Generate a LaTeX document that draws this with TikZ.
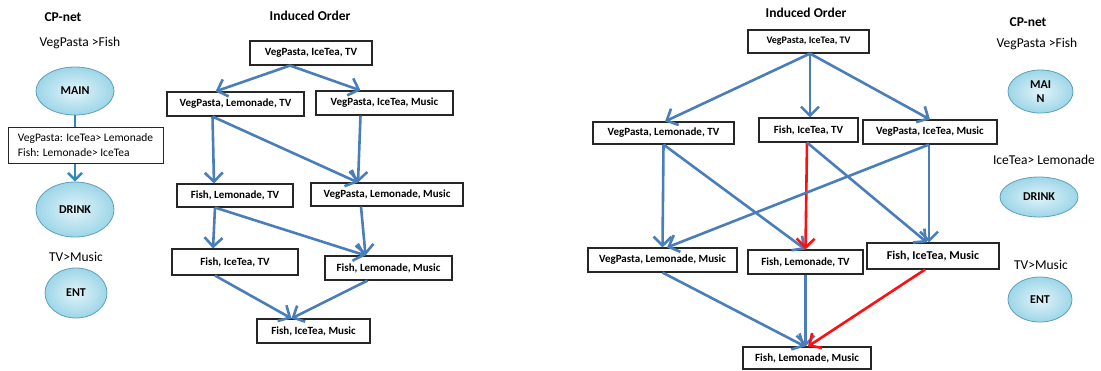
\documentclass[tikz,border=0pt]{standalone}
\usepackage{fontspec}
\setmainfont{Carlito}
\usetikzlibrary{arrows.meta,shapes.geometric}

\definecolor{edgeblue}{HTML}{4A7EBB}
\definecolor{edgered}{HTML}{FF1010}
\definecolor{netline}{HTML}{2E8CB4}
\definecolor{ellin}{HTML}{E2F4F9}
\definecolor{ellout}{HTML}{9DD6E8}
\definecolor{ellrim}{HTML}{5F9FBA}

\tikzset{
  state/.style={draw=black!85, line width=1.1pt, fill=white, inner sep=0pt,
    font=\fontsize{11}{13}\selectfont\bfseries},
  var/.style={ellipse, draw=ellrim, line width=0.8pt, inner sep=0pt,
    shading=radial, inner color=ellin, outer color=ellout,
    font=\fontsize{12}{14}\selectfont\bfseries, align=center},
  title/.style={font=\fontsize{13.5}{15}\selectfont\bfseries},
  pref/.style={font=\fontsize{13.5}{15}\selectfont},
  better/.style={draw=edgeblue, line width=2.6pt,
    -{Straight Barb[length=9pt,width=18pt,line width=2.6pt]}},
  flip/.style={better, draw=edgered},
  link/.style={draw=netline, line width=2.4pt},
}

\begin{document}
\begin{tikzpicture}[x=1pt,y=-1pt]
\useasboundingbox (0,0) rectangle (1101,370);

% ---------- CP-net with conditional drink preference ----------
\node[title] (cp1) at (63,17) {CP-net};
\node[pref] (p1) at (80,43) {VegPasta >Fish};
\node[var, minimum width=78pt, minimum height=48pt] (main1) at (75,91) {MAIN};
\node[draw=black!85, line width=1pt, fill=white, minimum width=155pt,
      minimum height=36pt, align=left, inner sep=4pt,
      font=\fontsize{11.5}{15}\selectfont] (cpt) at (85.5,145)
      {VegPasta: IceTea> Lemonade\\Fish: Lemonade> IceTea};
\node[var, minimum width=78pt, minimum height=55pt] (drink1) at (75,209.5) {DRINK};
\node[pref] (p3) at (76,257) {TV>Music};
\node[var, minimum width=62pt, minimum height=50pt] (ent1) at (76,293) {ENT};
\draw[link] (main1.south) -- (main1.south |- cpt.north);
\draw[link, -{Straight Barb[length=7pt,width=14pt,line width=2.4pt]}]
  (cpt.south -| drink1.north) -- (drink1.north);

% ---------- induced order of the conditional CP-net ----------
\node[title] (io1) at (310,16) {Induced Order};
\node[state, minimum width=122pt, minimum height=24pt] (a) at (311,53) {VegPasta, IceTea, TV};
\node[state, minimum width=137pt, minimum height=24pt] (b) at (235.5,104) {VegPasta, Lemonade, TV};
\node[state, minimum width=137pt, minimum height=24pt] (c) at (384.5,103) {VegPasta, IceTea, Music};
\node[state, minimum width=116pt, minimum height=23pt] (d) at (235,195.5) {Fish, Lemonade, TV};
\node[state, minimum width=152pt, minimum height=23pt] (e) at (387,194.5) {VegPasta, Lemonade, Music};
\node[state, minimum width=126pt, minimum height=26pt] (f) at (235,262) {Fish, IceTea, TV};
\node[state, minimum width=127pt, minimum height=24pt] (g) at (388.5,268) {Fish, Lemonade, Music};
\node[state, minimum width=113pt, minimum height=24pt] (h) at (313.5,331) {Fish, IceTea, Music};

\draw[better] ([xshift=-21pt]a.south) -- ([xshift=-20pt]b.north);
\draw[better] ([xshift=-21pt]a.south) -- ([xshift=-24pt]c.north);
\draw[better] ([xshift=-23pt]b.south) -- ([xshift=-21pt]d.north);
\draw[better] ([xshift=-23pt]b.south) -- ([xshift=-29pt]e.north);
\draw[better] ([xshift=-24pt]c.south) -- ([xshift=-29pt]e.north);
\draw[better] ([xshift=-20pt]d.south) -- ([xshift=-22pt]f.north);
\draw[better] ([xshift=-20pt]d.south) -- ([xshift=-23pt]g.north);
\draw[better] ([xshift=-26pt]e.south) -- ([xshift=-23pt]g.north);
\draw[better] ([xshift=-20pt]f.south) -- ([xshift=-22pt]h.north);
\draw[better] ([xshift=-21pt]g.south) -- ([xshift=-22pt]h.north);

% ---------- induced order of the unconditional CP-net ----------
\node[title] (io2) at (806,13) {Induced Order};
\node[state, minimum width=121pt, minimum height=23pt,
      font=\fontsize{10}{12}\selectfont\bfseries] (a2) at (808.5,41.5) {VegPasta, IceTea, TV};
\node[state, minimum width=141pt, minimum height=22pt] (b2) at (663.5,133) {VegPasta, Lemonade, TV};
\node[state, minimum width=99pt, minimum height=24pt] (c2) at (808.5,130) {Fish, IceTea, TV};
\node[state, minimum width=134pt, minimum height=24pt] (d2) at (930,132) {VegPasta, IceTea, Music};
\node[state, minimum width=149pt, minimum height=24pt] (e2) at (662.5,260) {VegPasta, Lemonade, Music};
\node[state, minimum width=115pt, minimum height=24pt] (f2) at (805.5,262) {Fish, Lemonade, TV};
\node[state, minimum width=132pt, minimum height=26pt,
      font=\fontsize{12}{14}\selectfont\bfseries] (g2) at (933,256) {Fish, IceTea, Music};
\node[state, minimum width=128pt, minimum height=22pt] (h2) at (807,358) {Fish, Lemonade, Music};

\draw[better] ([xshift=1.5pt]a2.south) -- ([xshift=1.5pt]b2.north);
\draw[better] ([xshift=1.5pt]a2.south) -- ([xshift=1.5pt]c2.north);
\draw[better] ([xshift=1.5pt]a2.south) -- (d2.north);
\draw[better] (b2.south) -- (e2.north);
\draw[better] (b2.south) -- (f2.north);
\draw[flip]   ([xshift=-1.5pt]c2.south) -- (f2.north);
\draw[better] ([xshift=-1.5pt]c2.south) -- ([xshift=-6pt]g2.north);
\draw[better] ([xshift=-1pt]d2.south) -- ([xshift=4.5pt]e2.north);
\draw[better] ([xshift=-1pt]d2.south) -- ([xshift=-4pt]g2.north);
\draw[better] (e2.south) -- ([xshift=-2pt]h2.north);
\draw[better] (f2.south) -- (f2.south |- h2.north);
\draw[flip]   ([xshift=-8pt]g2.south) -- ([xshift=1pt]h2.north);

% ---------- unconditional CP-net ----------
\node[title] (cp2) at (1028,22) {CP-net};
\node[pref] (q1) at (1037,44) {VegPasta >Fish};
\node[var, minimum width=65pt, minimum height=43pt] (main2) at (1040.5,91.5) {MAI\\N};
\node[pref] (q2) at (1044,160) {IceTea> Lemonade};
\node[var, minimum width=78pt, minimum height=40pt] (drink2) at (1039,197) {DRINK};
\node[pref] (q3) at (1041,265) {TV>Music};
\node[var, minimum width=64pt, minimum height=45pt] (ent2) at (1040,299.5) {ENT};
\end{tikzpicture}
\end{document}
